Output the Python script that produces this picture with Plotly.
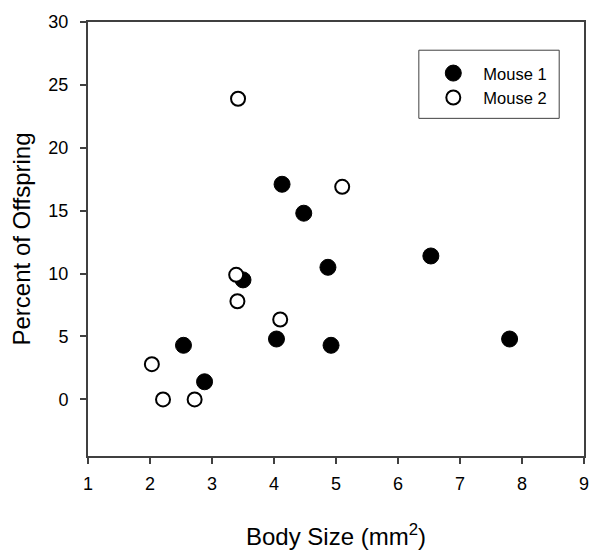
import plotly.graph_objects as go

# Data
mouse1_x = [2.54, 2.88, 3.50, 4.04, 4.13, 4.48, 4.87, 4.92, 6.53, 7.80]
mouse1_y = [4.3, 1.4, 9.5, 4.8, 17.1, 14.8, 10.5, 4.3, 11.4, 4.8]
mouse2_x = [2.03, 2.21, 2.72, 3.42, 3.39, 3.41, 4.10, 5.10]
mouse2_y = [2.8, 0.0, 0.0, 23.9, 9.9, 7.8, 6.35, 16.9]

x_ticks = [1, 2, 3, 4, 5, 6, 7, 8, 9]
y_ticks = [0, 5, 10, 15, 20, 25, 30]

FONT = "Arial, Liberation Sans, sans-serif"
AXC = "#404040"

fig = go.Figure()
fig.add_trace(go.Scatter(
    x=mouse1_x, y=mouse1_y, mode="markers", name="Mouse 1",
    marker=dict(size=16, color="black", line=dict(color="black", width=1)),
))
fig.add_trace(go.Scatter(
    x=mouse2_x, y=mouse2_y, mode="markers", name="Mouse 2",
    marker=dict(size=14, color="white", line=dict(color="black", width=2)),
))

# page body has an 8px default margin on every side; size the figure so the page is 601x558
fig.update_layout(
    width=585, height=542,
    margin=dict(l=80, r=4, t=13, b=90),
    plot_bgcolor="white", paper_bgcolor="white",
    font=dict(family=FONT, size=18, color="black"),
    showlegend=True,
    legend=dict(
        x=0.676, y=0.922, xanchor="left", yanchor="top",
        bgcolor="rgba(0,0,0,0)", borderwidth=0,
        font=dict(family=FONT, size=16.5, color="black"),
        itemwidth=50,
    ),
    shapes=[dict(type="rect", xref="paper", yref="paper",
                 x0=0.667, x1=0.950, y0=0.778, y1=0.935,
                 line=dict(color=AXC, width=1), fillcolor="rgba(0,0,0,0)")],
)

fig.update_xaxes(
    range=[1, 9], tickvals=x_ticks, ticktext=[str(v) for v in x_ticks],
    showgrid=False, zeroline=False,
    showline=True, linecolor=AXC, linewidth=2, mirror=True,
    ticks="outside", ticklen=6, tickwidth=1.5, tickcolor=AXC,
    ticklabelstandoff=4,
    title=dict(text="Body Size (mm<sup>2</sup>)", font=dict(family=FONT, size=24), standoff=36),
)
fig.update_yaxes(
    range=[-4.5, 30], tickvals=y_ticks, ticktext=[str(v) for v in y_ticks],
    showgrid=False, zeroline=False,
    showline=True, linecolor=AXC, linewidth=2, mirror=True,
    ticks="outside", ticklen=6, tickwidth=1.5, tickcolor=AXC,
    ticklabelstandoff=8,
    title=dict(text="Percent of Offspring", font=dict(family=FONT, size=24), standoff=19),
)

fig.write_html("out.html")
